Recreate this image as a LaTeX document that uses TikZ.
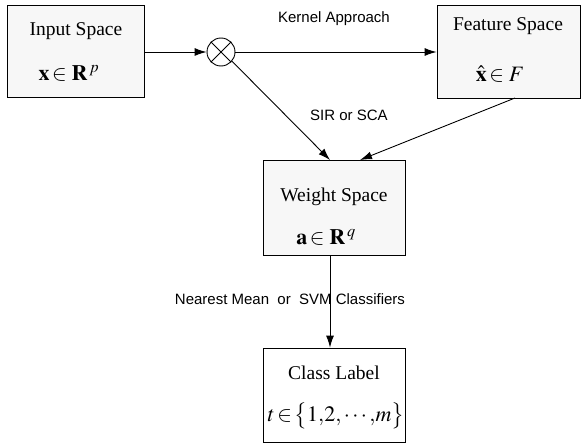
\documentclass[tikz,border=0pt]{standalone}
\usepackage{mathptmx}
\usepackage{fontspec}
\setmainfont{Liberation Serif}
\newfontfamily\labelfont{Liberation Sans}
\usetikzlibrary{arrows.meta}
\begin{document}
\begin{tikzpicture}[x=1pt,y=-1pt,
  box/.style={draw=black,line width=0.9pt,fill=black!3},
  boxtext/.style={font=\fontsize{19.5}{22}\selectfont,inner sep=0pt},
  mathtext/.style={font=\fontsize{22}{24}\selectfont,inner sep=0pt},
  lbl/.style={font=\labelfont\fontsize{15}{17}\selectfont,inner sep=0pt},
  conn/.style={line width=0.9pt,-{Latex[length=12pt,width=8pt]}},
  plain/.style={line width=0.9pt}]
\useasboundingbox (0,0) rectangle (584,444);
% boxes
\node[box,minimum width=137pt,minimum height=92pt,inner sep=0pt] (in) at (75.5,51) {};
\node[box,minimum width=143pt,minimum height=93pt,inner sep=0pt] (feat) at (508.5,51.5) {};
\node[box,minimum width=142pt,minimum height=95pt,inner sep=0pt] (w) at (334,207.5) {};
\node[draw=black,line width=0.9pt,fill=white,minimum width=142pt,minimum height=94pt,inner sep=0pt] (cls) at (334,395) {};
% texts
\node[boxtext] (t1) at (76,31) {Input Space};
\node[mathtext] (m1) at (69,73) {$\mathbf{x}\!\in\mathbf{R}^{\,p}$};
\node[boxtext] (t2) at (508,26) {Feature Space};
\node[mathtext] (m2) at (500,74) {$\hat{\mathbf{x}}\!\in F$};
\node[boxtext] (t3) at (334,197) {Weight Space};
\node[mathtext] (m3) at (326,237) {$\mathbf{a}\!\in\mathbf{R}^{\,q}$};
\node[boxtext] (t4) at (334,373) {Class Label};
\node[mathtext] (m4) at (336,416) {$t\!\in\!\bigl\{1{,}2{,}\cdots{,}m\bigr\}$};
% multiplier
\node[draw=black,line width=0.9pt,circle,minimum size=28pt,inner sep=0pt] (mul) at (221,52) {};
\draw[plain] (mul.north west) -- (mul.south east);
\draw[plain] (mul.north east) -- (mul.south west);
% connectors
\coordinate (wA) at (330,160);
\coordinate (wB) at (360,160);
\coordinate (fB) at (515,98);
\draw[conn] (in.east |- mul.west) -- (mul.west);
\draw[conn] (mul.east) -- (feat.west |- mul.east);
\draw[conn] (mul.-40) -- (wA);
\draw[conn] (fB) -- (wB);
\draw[conn] (w.south -| wA) -- (cls.north -| wA);
% labels
\node[lbl] (l1) at (334,19) {Kernel Approach};
\node[lbl] (l2) at (349,115) {SIR or SCA};
\node[lbl] (l3) at (290,299) {Nearest Mean\ \ or\ \ SVM Classifiers};
\end{tikzpicture}
\end{document}
